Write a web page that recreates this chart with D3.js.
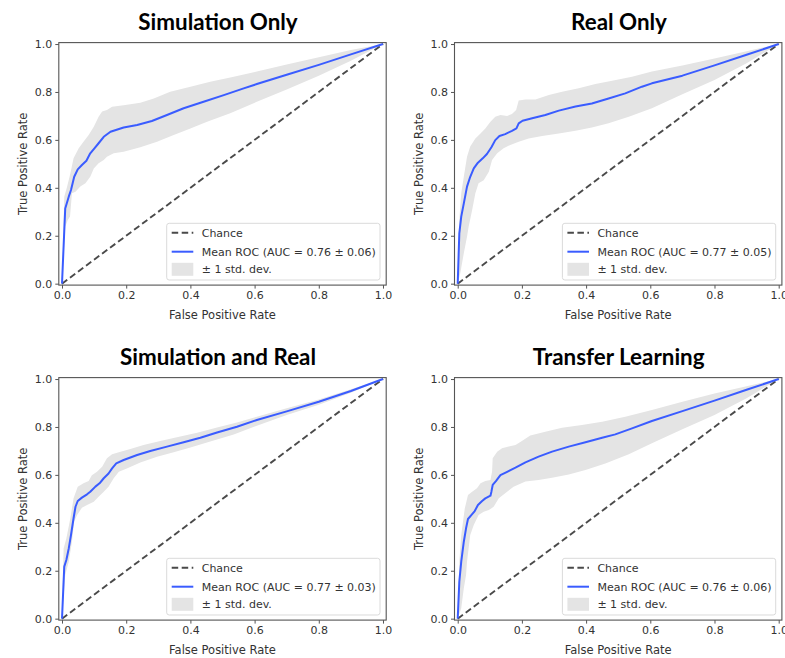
<!DOCTYPE html>
<html><head><meta charset="utf-8">
<script src="https://cdn.jsdelivr.net/npm/d3@7"></script>
<style>body{margin:0;background:#fff}</style>
</head><body>
<svg id="c" width="785" height="658"></svg>
<script>
const panelTitles = ["Simulation Only", "Real Only", "Simulation and Real", "Transfer Learning"];
const aucLabels = ["Mean ROC (AUC = 0.76 ± 0.06)", "Mean ROC (AUC = 0.77 ± 0.05)", "Mean ROC (AUC = 0.77 ± 0.03)", "Mean ROC (AUC = 0.76 ± 0.06)"];
const legendLabels = ["Chance", "± 1 std. dev."];
const xLabel = "False Positive Rate";
const yLabel = "True Positive Rate";
const xTicks = [0.0, 0.2, 0.4, 0.6, 0.8, 1.0];
const yTicks = [0.0, 0.2, 0.4, 0.6, 0.8, 1.0];
const chance = [[0, 0], [1, 1]];

const simOnlyMean = [[0,0],[0.010,0.314],[0.021,0.363],[0.028,0.391],[0.038,0.446],[0.049,0.477],[0.062,0.495],[0.076,0.513],[0.088,0.544],[0.101,0.565],[0.114,0.586],[0.130,0.613],[0.151,0.634],[0.192,0.652],[0.234,0.662],[0.280,0.679],[0.327,0.704],[0.379,0.732],[0.441,0.759],[0.504,0.787],[0.566,0.815],[0.607,0.833],[0.7,0.872],[0.8,0.913],[0.9,0.957],[1,1]];
const simOnlyUpper = [[0,0],[0.007,0.363],[0.016,0.405],[0.026,0.46],[0.036,0.523],[0.052,0.565],[0.067,0.592],[0.083,0.62],[0.099,0.655],[0.114,0.697],[0.125,0.718],[0.14,0.725],[0.156,0.738],[0.192,0.745],[0.244,0.755],[0.286,0.773],[0.337,0.801],[0.40,0.822],[0.462,0.843],[0.535,0.864],[0.607,0.885],[0.7,0.915],[0.8,0.945],[0.9,0.975],[1,1]];
const simOnlyLower = [[0,0],[0.010,0.238],[0.018,0.266],[0.025,0.28],[0.031,0.377],[0.042,0.384],[0.057,0.405],[0.073,0.419],[0.088,0.446],[0.099,0.481],[0.114,0.502],[0.130,0.516],[0.140,0.530],[0.161,0.544],[0.192,0.551],[0.244,0.569],[0.296,0.592],[0.348,0.620],[0.40,0.648],[0.452,0.676],[0.524,0.711],[0.607,0.759],[0.7,0.81],[0.8,0.868],[0.9,0.93],[1,1]];

const realOnlyMean = [[0,0],[0.005,0.21],[0.011,0.28],[0.019,0.335],[0.029,0.405],[0.039,0.446],[0.05,0.481],[0.063,0.505],[0.078,0.523],[0.091,0.541],[0.105,0.569],[0.117,0.599],[0.130,0.616],[0.148,0.624],[0.169,0.638],[0.183,0.648],[0.19,0.669],[0.202,0.680],[0.232,0.690],[0.273,0.704],[0.315,0.722],[0.367,0.739],[0.418,0.752],[0.470,0.773],[0.522,0.794],[0.574,0.822],[0.605,0.836],[0.7,0.868],[0.8,0.911],[0.9,0.955],[1,1]];
const realOnlyUpper = [[0,0],[0.005,0.266],[0.011,0.377],[0.019,0.446],[0.029,0.53],[0.039,0.572],[0.055,0.606],[0.071,0.627],[0.086,0.648],[0.102,0.676],[0.117,0.697],[0.133,0.704],[0.154,0.70],[0.169,0.708],[0.182,0.725],[0.19,0.764],[0.211,0.769],[0.242,0.769],[0.284,0.787],[0.325,0.801],[0.377,0.815],[0.429,0.833],[0.481,0.847],[0.543,0.864],[0.605,0.885],[0.7,0.91],[0.8,0.94],[0.9,0.97],[1,1]];
const realOnlyLower = [[0,0],[0.008,0.043],[0.019,0.127],[0.029,0.196],[0.034,0.238],[0.045,0.307],[0.055,0.377],[0.065,0.419],[0.081,0.432],[0.097,0.467],[0.107,0.516],[0.123,0.544],[0.143,0.565],[0.164,0.579],[0.19,0.592],[0.221,0.606],[0.263,0.616],[0.315,0.627],[0.367,0.638],[0.418,0.652],[0.47,0.669],[0.533,0.697],[0.605,0.732],[0.7,0.79],[0.8,0.85],[0.9,0.92],[1,1]];

const simRealMean = [[0,0],[0.007,0.217],[0.0135,0.245],[0.021,0.293],[0.028,0.349],[0.036,0.419],[0.042,0.467],[0.049,0.491],[0.062,0.505],[0.078,0.519],[0.088,0.530],[0.104,0.551],[0.117,0.565],[0.130,0.586],[0.145,0.606],[0.156,0.627],[0.169,0.648],[0.192,0.662],[0.234,0.683],[0.275,0.70],[0.327,0.718],[0.379,0.736],[0.431,0.755],[0.483,0.777],[0.545,0.801],[0.607,0.829],[0.7,0.865],[0.8,0.905],[0.9,0.95],[1,1]];
const simRealUpper = [[0,0],[0.005,0.293],[0.0135,0.335],[0.026,0.419],[0.036,0.502],[0.049,0.551],[0.067,0.565],[0.083,0.574],[0.093,0.599],[0.109,0.613],[0.125,0.634],[0.14,0.669],[0.156,0.686],[0.177,0.694],[0.213,0.708],[0.254,0.725],[0.306,0.741],[0.358,0.757],[0.421,0.776],[0.483,0.798],[0.545,0.819],[0.607,0.843],[0.7,0.878],[0.8,0.915],[0.9,0.957],[1,1]];
const simRealLower = [[0,0],[0.010,0.182],[0.021,0.238],[0.031,0.321],[0.038,0.405],[0.047,0.433],[0.062,0.463],[0.078,0.474],[0.099,0.488],[0.114,0.509],[0.13,0.53],[0.145,0.551],[0.161,0.586],[0.177,0.613],[0.202,0.627],[0.244,0.652],[0.296,0.676],[0.348,0.694],[0.40,0.714],[0.462,0.739],[0.535,0.769],[0.607,0.805],[0.7,0.85],[0.8,0.893],[0.9,0.943],[1,1]];

const transferMean = [[0,0],[0.005,0.154],[0.011,0.238],[0.019,0.321],[0.026,0.377],[0.032,0.416],[0.043,0.433],[0.053,0.449],[0.063,0.474],[0.076,0.491],[0.086,0.502],[0.102,0.513],[0.105,0.530],[0.109,0.558],[0.119,0.574],[0.133,0.599],[0.154,0.613],[0.180,0.630],[0.211,0.652],[0.252,0.676],[0.294,0.697],[0.346,0.718],[0.398,0.736],[0.45,0.755],[0.491,0.769],[0.543,0.794],[0.605,0.825],[0.7,0.866],[0.8,0.91],[0.9,0.955],[1,1]];
const transferUpper = [[0,0],[0.005,0.238],[0.011,0.349],[0.022,0.46],[0.032,0.516],[0.045,0.53],[0.060,0.544],[0.071,0.565],[0.086,0.574],[0.102,0.579],[0.107,0.613],[0.109,0.669],[0.123,0.697],[0.138,0.711],[0.159,0.718],[0.18,0.725],[0.2,0.741],[0.226,0.764],[0.273,0.780],[0.325,0.797],[0.387,0.808],[0.45,0.822],[0.522,0.843],[0.605,0.871],[0.7,0.905],[0.8,0.94],[0.9,0.97],[1,1]];
const transferLower = [[0,0],[0.011,0.043],[0.019,0.127],[0.026,0.182],[0.029,0.238],[0.039,0.349],[0.05,0.391],[0.065,0.433],[0.081,0.446],[0.097,0.453],[0.112,0.467],[0.128,0.502],[0.148,0.523],[0.174,0.551],[0.211,0.572],[0.252,0.579],[0.294,0.588],[0.346,0.602],[0.398,0.62],[0.46,0.648],[0.533,0.686],[0.605,0.732],[0.7,0.79],[0.8,0.85],[0.9,0.92],[1,1]];

const panels = [
  {title: panelTitles[0], auc: aucLabels[0], mean: simOnlyMean, upper: simOnlyUpper, lower: simOnlyLower, dx: 0, dy: 0, tx: 218},
  {title: panelTitles[1], auc: aucLabels[1], mean: realOnlyMean, upper: realOnlyUpper, lower: realOnlyLower, dx: 395.7, dy: 0, tx: 223.3},
  {title: panelTitles[2], auc: aucLabels[2], mean: simRealMean, upper: simRealUpper, lower: simRealLower, dx: 0, dy: 335, tx: 218},
  {title: panelTitles[3], auc: aucLabels[3], mean: transferMean, upper: transferUpper, lower: transferLower, dx: 395.7, dy: 335, tx: 223}
];

const svg = d3.select("#c");
const FONT = "'DejaVu Sans', sans-serif";
const TXT = "#333";
const SPINE = "#555";
const BLUE = "#3a5cff";
const BAND = "#e4e4e4";
const DASH = "#4a4a4a";

const x = d3.scaleLinear().domain([-0.01, 1.01]).range([58.8, 386.2]);
const y = d3.scaleLinear().domain([-0.006, 1.006]).range([285.1, 42.6]);
const line = d3.line().x(d => x(d[0])).y(d => y(d[1]));

panels.forEach(p => {
  const g = svg.append("g").attr("transform", `translate(${p.dx},${p.dy})`);
  const [x0, x1] = x.range(), [y0, y1] = y.range();

  const poly = p.upper.concat(p.lower.slice().reverse());
  g.append("path").attr("d", line(poly) + "Z").attr("fill", BAND).attr("stroke", "none");
  g.append("path").attr("d", line(chance)).attr("fill", "none")
    .attr("stroke", DASH).attr("stroke-width", 1.9).attr("stroke-dasharray", "6.5,3.5");
  g.append("path").attr("d", line(p.mean)).attr("fill", "none")
    .attr("stroke", BLUE).attr("stroke-width", 2).attr("stroke-linejoin", "round");

  const xa = g.append("g").attr("transform", `translate(0,${y0})`)
    .call(d3.axisBottom(x).tickValues(xTicks).tickFormat(d3.format(".1f")).tickSize(3.5).tickPadding(3));
  const ya = g.append("g").attr("transform", `translate(${x0},0)`)
    .call(d3.axisLeft(y).tickValues(yTicks).tickFormat(d3.format(".1f")).tickSize(3.5).tickPadding(3));
  [xa, ya].forEach(a => {
    a.select(".domain").remove();
    a.selectAll(".tick line").attr("stroke", SPINE).attr("stroke-width", 1);
    a.selectAll(".tick text").attr("fill", TXT).style("font-family", FONT).style("font-size", "11px");
  });
  g.append("rect").attr("x", x0).attr("y", y1).attr("width", x1 - x0).attr("height", y0 - y1)
    .attr("fill", "none").attr("stroke", SPINE).attr("stroke-width", 1.1);

  g.append("text").attr("x", (x0 + x1) / 2).attr("y", 319).attr("text-anchor", "middle")
    .style("font-family", FONT).style("font-size", "11.5px").attr("fill", TXT).text(xLabel);
  g.append("text").attr("transform", `translate(27,${(y0 + y1) / 2}) rotate(-90)`).attr("text-anchor", "middle")
    .style("font-family", FONT).style("font-size", "11.5px").attr("fill", TXT).text(yLabel);

  g.append("text").attr("x", p.tx).attr("y", 30).attr("text-anchor", "middle")
    .style("font-family", "Lato, 'Open Sans', sans-serif").style("font-weight", "bold").style("font-size", "22.4px")
    .attr("fill", "#000").text(p.title);

  const lg = g.append("g").attr("transform", "translate(166.7,223.3)");
  lg.append("rect").attr("width", 213.3).attr("height", 56.7).attr("rx", 2.5)
    .attr("fill", "#fff").attr("fill-opacity", 0.8).attr("stroke", "#d6d6d6").attr("stroke-width", 0.9);
  const rows = [9.4, 28.4, 46];
  lg.append("line").attr("x1", 5).attr("x2", 26.6).attr("y1", rows[0]).attr("y2", rows[0])
    .attr("stroke", DASH).attr("stroke-width", 1.9).attr("stroke-dasharray", "6.5,3.5");
  lg.append("line").attr("x1", 5).attr("x2", 26.6).attr("y1", rows[1]).attr("y2", rows[1])
    .attr("stroke", BLUE).attr("stroke-width", 2);
  lg.append("rect").attr("x", 5).attr("y", rows[2] - 6.5).attr("width", 21.6).attr("height", 13).attr("fill", BAND);
  const labels = [legendLabels[0], p.auc, legendLabels[1]];
  labels.forEach((t, i) => {
    lg.append("text").attr("x", 35).attr("y", rows[i]).attr("dy", "0.35em")
      .style("font-family", FONT).style("font-size", "11px").attr("fill", TXT).text(t);
  });
});
</script>
</body></html>
